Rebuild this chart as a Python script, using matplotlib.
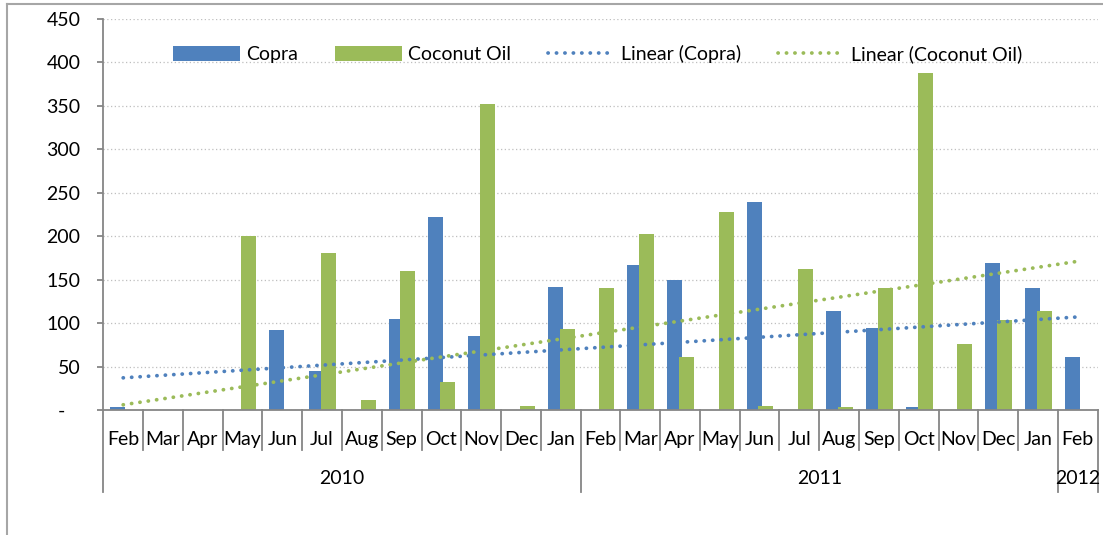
import numpy as np
import matplotlib
matplotlib.use("Agg")
import matplotlib.pyplot as plt
from matplotlib.lines import Line2D
import matplotlib.transforms as mtransforms

plt.rcParams['font.family'] = ['Lato', 'DejaVu Sans']

months = ["Feb", "Mar", "Apr", "May", "Jun", "Jul", "Aug", "Sep", "Oct", "Nov", "Dec", "Jan",
          "Feb", "Mar", "Apr", "May", "Jun", "Jul", "Aug", "Sep", "Oct", "Nov", "Dec", "Jan",
          "Feb"]
years = ["2010", "2011", "2012"]
year_sizes = [12, 12, 1]

copra = [3, 0, 0, 0, 92, 45, 0, 105, 222, 85, 0, 142,
         0, 167, 149, 0, 239, 0, 114, 94, 3, 0, 169, 140, 61]
coconut_oil = [0, 0, 0, 200, 0, 180, 12, 160, 32, 352, 5, 93,
               140, 202, 61, 228, 5, 162, 3, 140, 387, 76, 104, 114, 0]

# trendline values at first and last month
copra_trend = [37, 107]
oil_trend = [6, 171]

BLUE = "#4F81BD"
GREEN = "#9BBB59"
AXIS = "#868686"
FS = 14

fig = plt.figure(figsize=(11.03, 5.35), dpi=100)
ax = fig.add_axes([103.3 / 1103, 125 / 535, 994.4 / 1103, 391.3 / 535])

x = np.arange(len(months))
w = 0.377
b1 = ax.bar(x - 0.14, copra, width=w, color=BLUE, label="Copra", zorder=2)
b2 = ax.bar(x + 0.16, coconut_oil, width=w, color=GREEN, label="Coconut Oil", zorder=2)

dots = dict(linestyle=(0, (0.05, 2.2)), dash_capstyle="round", linewidth=2.7, zorder=3)
l1, = ax.plot([x[0], x[-1]], copra_trend, color=BLUE, label="Linear (Copra)", **dots)
l2, = ax.plot([x[0], x[-1]], oil_trend, color=GREEN, label="Linear (Coconut Oil)", **dots)

ax.set_xlim(-0.5, len(months) - 0.5)
ax.set_ylim(0, 450)
ax.set_yticks(np.arange(0, 451, 50))
ax.set_yticklabels(["-\u00a0\u00a0\u00a0"] + [str(v) for v in range(50, 451, 50)])
ax.yaxis.grid(True, linestyle=(0, (1, 2)), color="#BFBFBF", linewidth=0.9, zorder=0)
ax.set_axisbelow(True)

for s in ["top", "right"]:
    ax.spines[s].set_visible(False)
for s in ["left", "bottom"]:
    ax.spines[s].set_color(AXIS)
    ax.spines[s].set_linewidth(1.3)

ax.tick_params(axis="y", length=4, width=1.3, color=AXIS, pad=12.5, labelsize=FS)
ax.set_xticks(x)
ax.set_xticklabels(months)
ax.tick_params(axis="x", length=0, pad=15, labelsize=FS)

# month separators and year separators below the axis
trans = mtransforms.blended_transform_factory(ax.transData, ax.transAxes)
bounds = np.arange(len(months) + 1) - 0.5
year_edges = np.concatenate([[0], np.cumsum(year_sizes)]) - 0.5
for b in bounds:
    low = -0.21 if b in year_edges else -0.102
    ax.add_line(Line2D([b, b], [0, low], transform=trans, color=AXIS,
                       linewidth=1.3, clip_on=False))
for i, yr in enumerate(years):
    mid = (year_edges[i] + year_edges[i + 1]) / 2
    ax.text(mid, -0.174, yr, transform=trans, ha="center", va="center", fontsize=FS)

ax.legend(handles=[b1, b2, l1, l2], loc="center", bbox_to_anchor=(0.497, 0.9098),
          ncol=4, frameon=False, fontsize=FS, handlelength=3.45, handleheight=0.82,
          handletextpad=0.3, columnspacing=1.9)

# outer chart border
fig.add_artist(Line2D([7 / 1103, 7 / 1103], [0, 1 - 4 / 535], color="#A6A6A6", linewidth=1.5))
fig.add_artist(Line2D([7 / 1103, 1], [1 - 4 / 535, 1 - 4 / 535], color="#A6A6A6", linewidth=1.5))

fig.savefig("out.png", dpi=100)
